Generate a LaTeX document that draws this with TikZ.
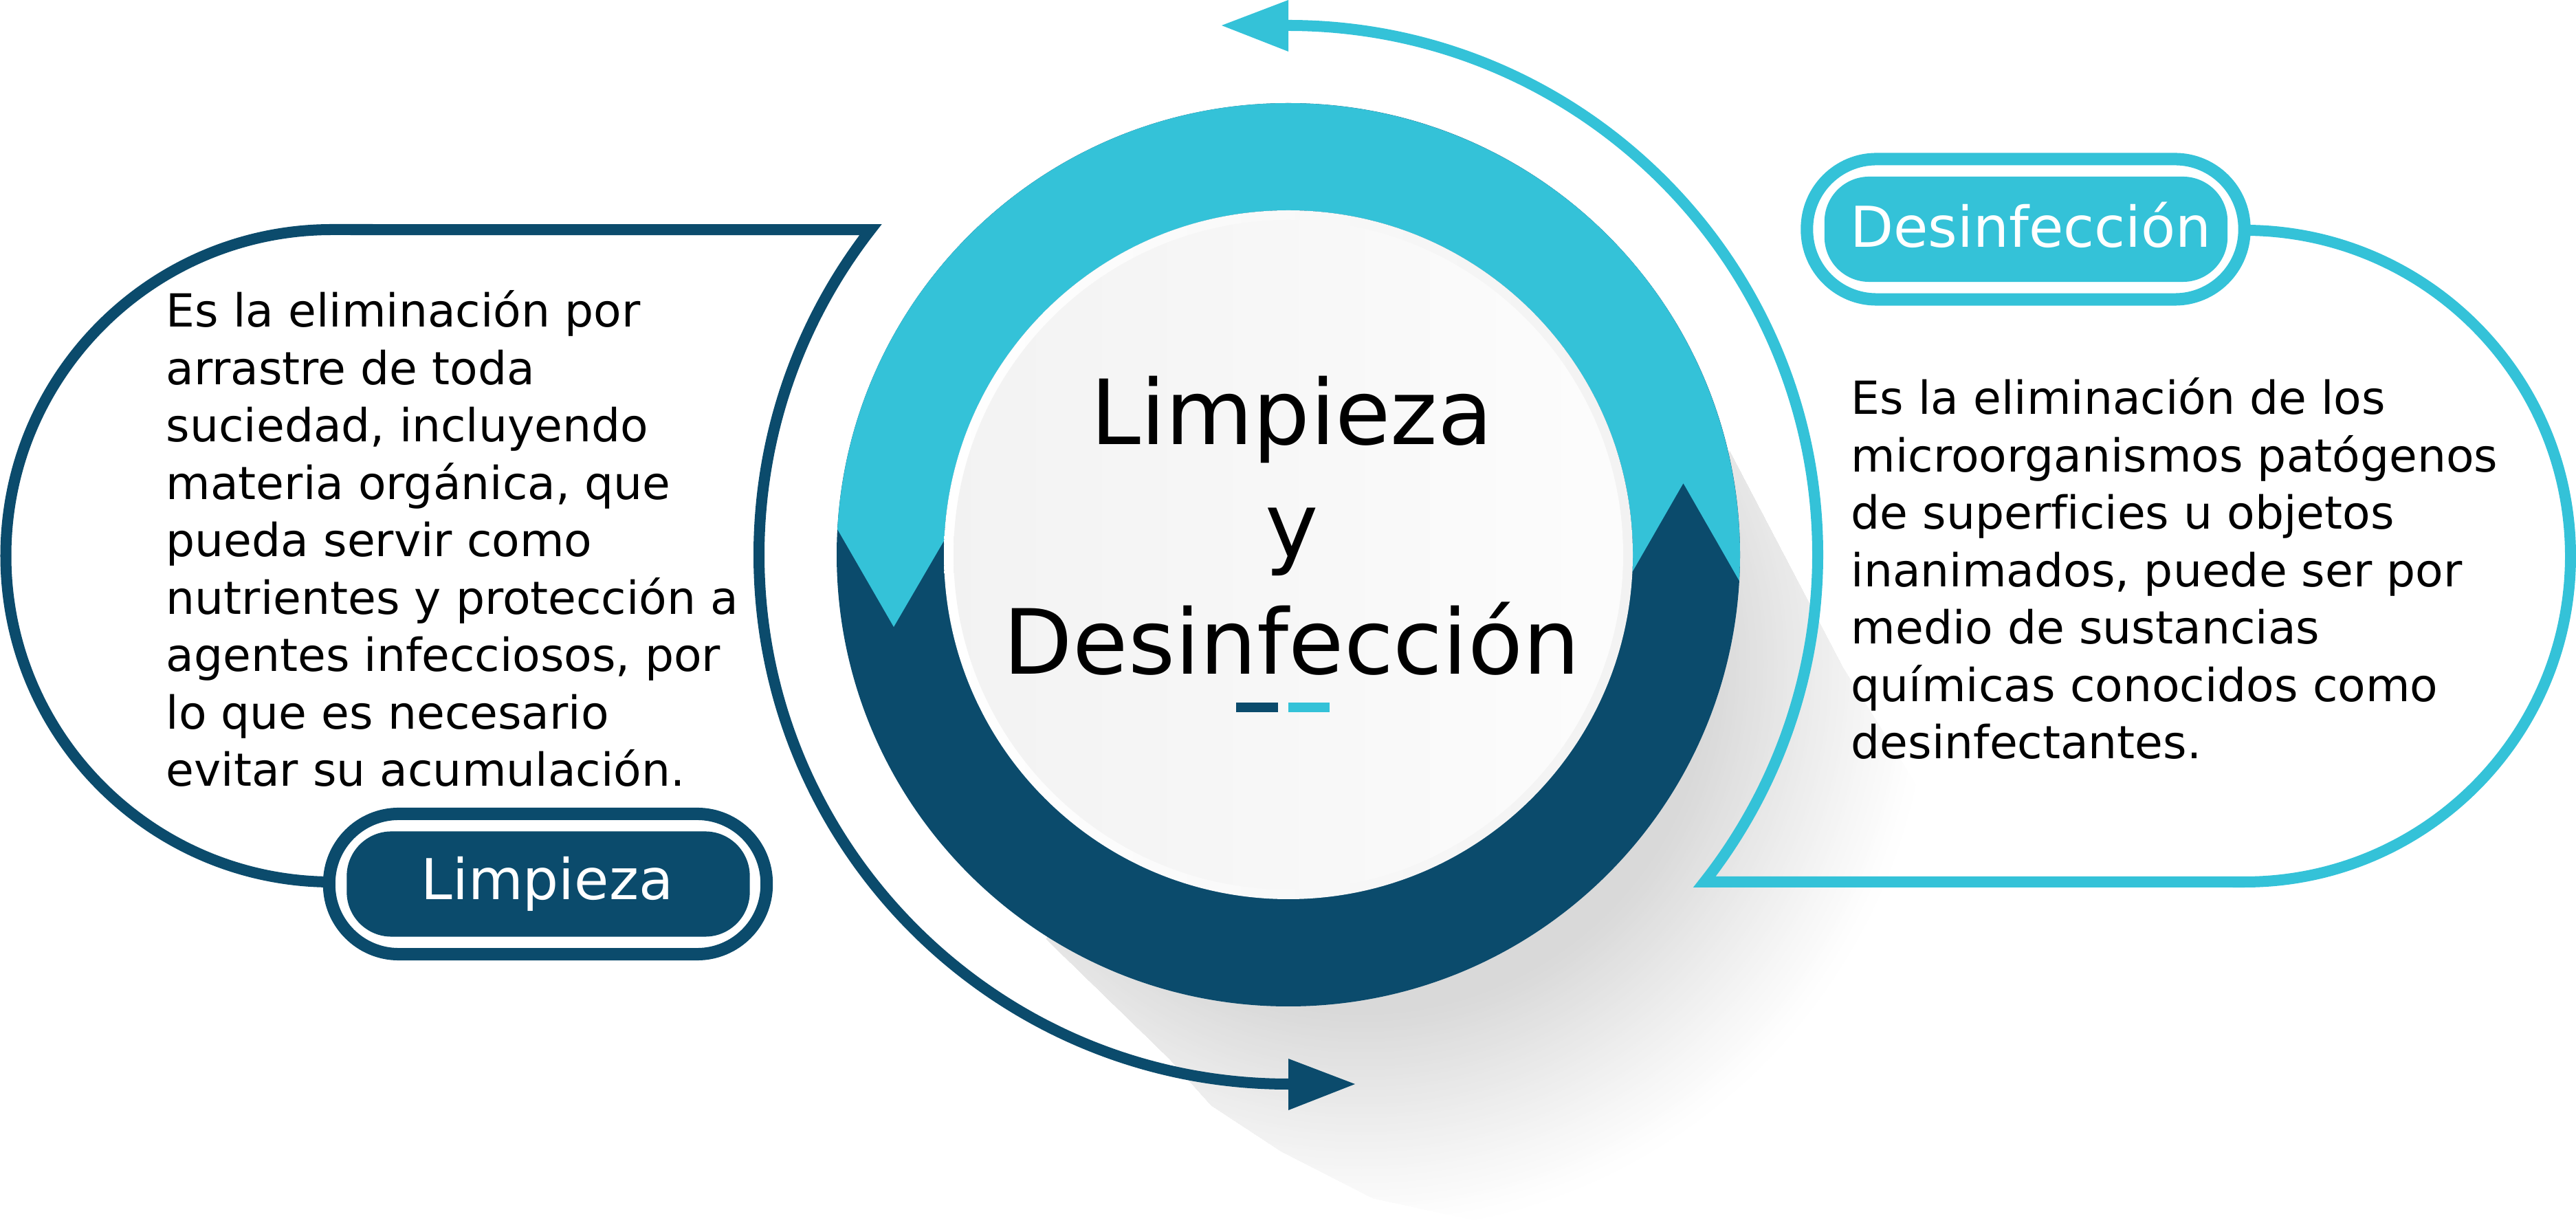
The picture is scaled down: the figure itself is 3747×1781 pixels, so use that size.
\documentclass[tikz,border=0pt]{standalone}
\usepackage{fontspec}
\setmainfont[Ligatures=NoCommon]{DejaVu Sans}
\definecolor{tealc}{HTML}{34C2D8}
\definecolor{darkc}{HTML}{0B4B6C}
\tikzset{
 x=0.01cm,y=0.01cm,
 outerpill/.style={draw=#1,line width=0.18cm,fill=white,minimum width=6.36cm,minimum height=2.04cm,rounded corners=1.01cm,inner sep=0pt},
 innerpill/.style={fill=#1,minimum width=5.86cm,minimum height=1.53cm,rounded corners=0.65cm,inner sep=0pt},
 pilllabel/.style={text=white,anchor=base,inner sep=0pt,font=\fontsize{23.3}{27}\selectfont},
 titleline/.style={text=black,anchor=base,inner sep=0pt,font=\fontsize{37.2}{44}\selectfont},
 bodytext/.style={text=black,anchor=north west,inner sep=0pt,align=left,font=\fontsize{18.86}{23.75}\selectfont},
 callout/.style={draw=#1,line width=0.16cm,line join=miter,miter limit=10},
}
\begin{document}
\begin{tikzpicture}
\useasboundingbox (0,0) rectangle (3747,1781);
\coordinate (C) at (1874,974);
% long shadow, fading outwards in fine concentric steps
\begin{scope}
\clip (1874,974) -- (2516,1124) -- (2681,809) -- (3000,300) -- (2400,-50) -- (1997,38) -- (1864,106) -- (1762,173) -- (1701,241) -- (1522,415) -- cycle;
\foreach \r in {830,825,...,400}{
  \pgfmathsetmacro{\p}{15*pow(min(1,(830-\r)/320),1.1)}
  \fill[black!\p!white] (1980,815) circle (\r);
}
\end{scope}
% ring
\fill[darkc] (C) circle (657);
\fill[tealc] ([shift={(176.77:657)}]C) arc (176.77:-3.31:657) -- (2448.5,1078) -- ([shift={(-2.86:501)}]C) arc (-2.86:177.6:501) -- (1300,869) -- cycle;
\shade[left color=white,right color=black!5] (C) circle (501);
\shade[left color=black!5,right color=black!1] (C) circle (487);
% title
\node[titleline] (t1) at (1879,1134) {Limpieza};
\node[titleline] (t2) at (1879,970) {y};
\node[titleline] (t3) at (1879,800) {Desinfección};
\fill[darkc] (1798,745) rectangle (1859,759);
\fill[tealc] (1873.5,745) rectangle (1934,759);
% callouts with their arcs
\draw[callout=darkc] (1874,204) arc (270:142.12:770) -- (483,1447) arc (90:270:474.5);
\fill[darkc] (1874,241) -- (1971,204) -- (1874,166) -- cycle;
\draw[callout=tealc] (1874,1744) arc (90:-38.18:770) -- (3265,498) arc (-90:90:474);
\fill[tealc] (1874,1781) -- (1777,1744) -- (1874,1706) -- cycle;
% pills
\node[outerpill=darkc] (limpOuter) at (797,495) {};
\node[innerpill=darkc] (limpInner) at (797.5,495) {};
\node[pilllabel] (limpLabel) at (796,472) {Limpieza};
\node[outerpill=tealc] (desOuter) at (2946.5,1447.5) {};
\node[innerpill=tealc] (desInner) at (2947,1447.5) {};
\node[pilllabel] (desLabel) at (2954,1421) {Desinfección};
% body text
\node[bodytext] (limpBody) at (241,1359) {Es la eliminación por\\arrastre de toda\\suciedad, incluyendo\\materia orgánica, que\\pueda servir como\\nutrientes y protección a\\agentes infecciosos, por\\lo que es necesario\\evitar su acumulación.};
\node[bodytext] (desBody) at (2692,1232) {Es la eliminación de los\\microorganismos patógenos\\de superficies u objetos\\inanimados, puede ser por\\medio de sustancias\\químicas conocidos como\\desinfectantes.};
\end{tikzpicture}
\end{document}
